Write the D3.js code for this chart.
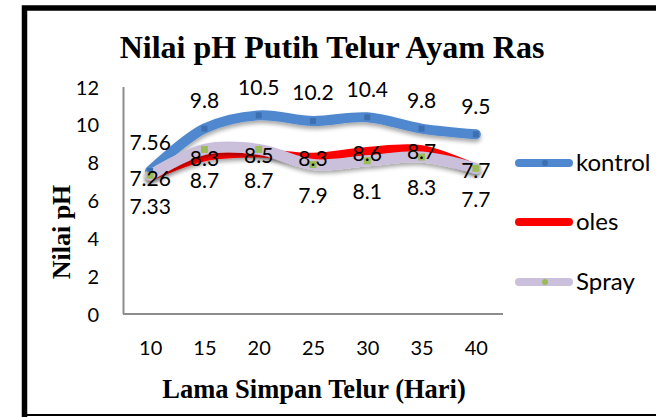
<!DOCTYPE html>
<html>
<head>
<meta charset="utf-8">
<script src="https://cdn.jsdelivr.net/npm/d3@7"></script>
<style>
html,body{margin:0;padding:0;background:#fff;}
svg{display:block;}
</style>
</head>
<body>
<svg id="chart" width="656" height="417"></svg>
<script>
const categories = ["10","15","20","25","30","35","40"];
const kontrol = [7.56, 9.8, 10.5, 10.2, 10.4, 9.8, 9.5];
const oles = [7.26, 8.3, 8.5, 8.3, 8.6, 8.7, 7.7];
const spray = [7.33, 8.7, 8.7, 7.9, 8.1, 8.3, 7.7];
const yTicks = [0, 2, 4, 6, 8, 10, 12];
const seriesNames = ["kontrol", "oles", "Spray"];

const svg = d3.select("#chart");
const numFont = "Lato, 'Open Sans', sans-serif";
const serif = "'Liberation Serif', 'Times New Roman', serif";

// shadow filter
const defs = svg.append("defs");
const f = defs.append("filter").attr("id","sh").attr("x","-10%").attr("y","-30%").attr("width","120%").attr("height","180%");
f.append("feGaussianBlur").attr("in","SourceAlpha").attr("stdDeviation",2.2).attr("result","b");
f.append("feOffset").attr("in","b").attr("dx",0).attr("dy",3).attr("result","o");
f.append("feComponentTransfer").attr("in","o").attr("result","o2").append("feFuncA").attr("type","linear").attr("slope",0.35);
const fm = f.append("feMerge");
fm.append("feMergeNode").attr("in","o2");
fm.append("feMergeNode").attr("in","SourceGraphic");

// frame
svg.append("path").attr("d","M24.5,420 L24.5,8 L660,8").attr("fill","none").attr("stroke","#000").attr("stroke-width",5.5);
svg.append("line").attr("x1",22).attr("x2",660).attr("y1",415).attr("y2",415).attr("stroke","#000").attr("stroke-width",2);

const x = d3.scalePoint().domain(categories).range([123, 503]).padding(0.5);
const y = d3.scaleLinear().domain([0, 12]).range([314, 87]);

// axes
const yAxis = d3.axisLeft(y).tickValues(yTicks).tickSize(0).tickPadding(0);
const gy = svg.append("g").attr("transform","translate(99,0)").call(yAxis);
gy.select(".domain").remove();
gy.selectAll("text").attr("font-family",numFont).attr("font-size",20).attr("fill","#000").attr("dy","0.35em");

const xAxis = d3.axisBottom(x).tickSize(0).tickPadding(0);
const gx = svg.append("g").attr("transform","translate(0,348)").call(xAxis);
gx.select(".domain").remove();
gx.selectAll("text").attr("font-family",numFont).attr("font-size",20).attr("fill","#000").attr("dy","0.35em");

svg.append("line").attr("x1",123.5).attr("x2",123.5).attr("y1",y(12)).attr("y2",y(0)).attr("stroke","#8c8c8c").attr("stroke-width",2);
svg.append("line").attr("x1",123).attr("x2",503).attr("y1",y(0)).attr("y2",y(0)).attr("stroke","#8c8c8c").attr("stroke-width",2);

// lines
const line = d3.line().x((d,i)=>x(categories[i])).y(d=>y(d)).curve(d3.curveCatmullRom.alpha(0.5));
const styles = [
  {data: kontrol, color:"#4f88cf", w:10},
  {data: oles, color:"#ff0000", w:8.5},
  {data: spray, color:"#cbc0dc", w:11}
];
styles.forEach(s=>{
  svg.append("path").attr("d", line(s.data)).attr("fill","none").attr("stroke", s.color)
    .attr("stroke-width", s.w).attr("stroke-linecap","round").attr("stroke-linejoin","round").attr("filter","url(#sh)");
});
// markers
svg.append("g").selectAll("rect").data(kontrol).join("rect")
  .attr("x",(d,i)=>x(categories[i])-3).attr("y",d=>y(d)-3).attr("width",6).attr("height",6).attr("fill","#3c6fb0");
svg.append("g").selectAll("rect").data(spray).join("rect")
  .attr("x",(d,i)=>x(categories[i])-3.5).attr("y",d=>y(d)-3.5).attr("width",7).attr("height",7).attr("fill","#9bbb59");

// data labels
const lblFont = 21;
function labels(data, dy){
  svg.append("g").selectAll("text").data(data).join("text")
    .attr("x",(d,i)=>x(categories[i])).attr("y",d=>y(d)+dy).attr("text-anchor","middle").attr("dy","0.35em")
    .attr("font-family",numFont).attr("font-size",lblFont).attr("fill","#000").text(d=>d);
}
labels(kontrol, -28);
labels(oles, 2);
labels(spray, 31);

// titles
svg.append("text").attr("x",332).attr("y",58).attr("text-anchor","middle").attr("font-family",serif)
  .attr("font-weight","bold").attr("font-size",32).text("Nilai pH Putih Telur Ayam Ras");
svg.append("text").attr("transform","translate(70,232) rotate(-90)").attr("text-anchor","middle").attr("font-family",serif)
  .attr("font-weight","bold").attr("font-size",26).text("Nilai pH");
svg.append("text").attr("x",314).attr("y",398).attr("text-anchor","middle").attr("font-family",serif)
  .attr("font-weight","bold").attr("font-size",26.5).text("Lama Simpan Telur (Hari)");

// legend
const legY = [163, 222, 282];
const lg = svg.append("g");
seriesNames.forEach((n,i)=>{
  lg.append("line").attr("x1",519).attr("x2",569).attr("y1",legY[i]).attr("y2",legY[i])
    .attr("stroke",styles[i].color).attr("stroke-width",8).attr("stroke-linecap","round");
  if(i===0) lg.append("circle").attr("cx",545).attr("cy",legY[i]).attr("r",3).attr("fill","#3c6fb0");
  if(i===2) lg.append("circle").attr("cx",545).attr("cy",legY[i]).attr("r",3).attr("fill","#9bbb59");
  lg.append("text").attr("x",576).attr("y",legY[i]).attr("dy","0.35em").attr("font-family",numFont)
    .attr("font-size",24).attr("fill","#000").text(n);
});
</script>
</body>
</html>
